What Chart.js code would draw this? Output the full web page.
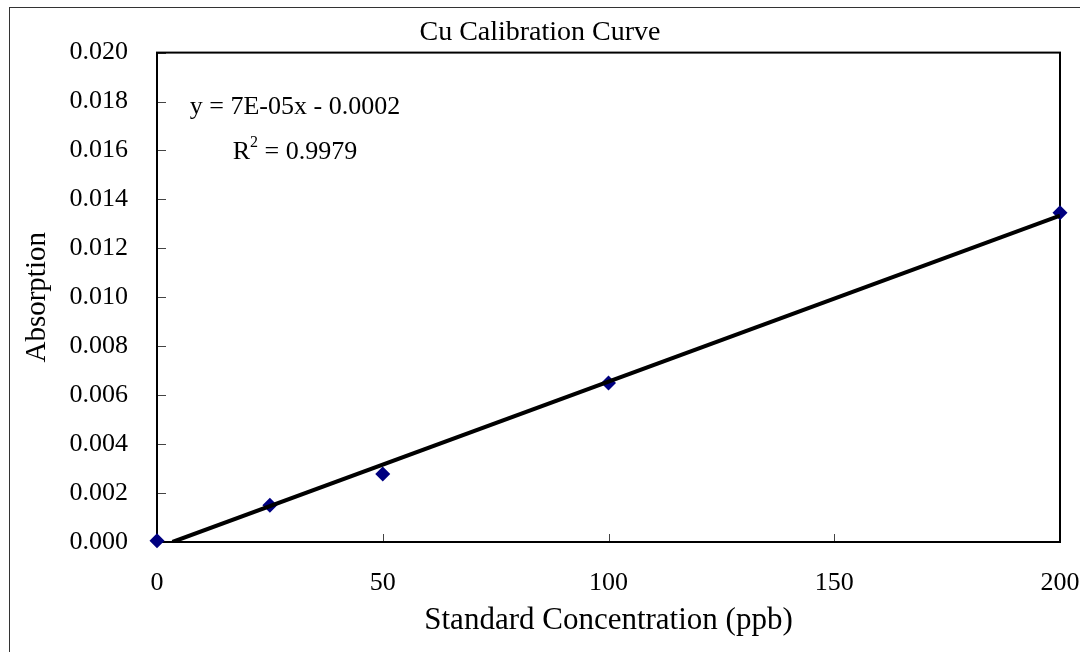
<!DOCTYPE html>
<html>
<head>
<meta charset="utf-8">
<script src="https://cdn.jsdelivr.net/npm/chart.js@4.4.1/dist/chart.umd.min.js"></script>
<style>
  html, body { margin: 0; padding: 0; background: #fff; }
  #wrap { width: 1080px; height: 652px; }
</style>
</head>
<body>
<div id="wrap"><canvas id="cu-chart" width="1080" height="652"></canvas></div>
<script>
// standards (ppb) and measured absorption
const concentrations = [0, 25, 50, 100, 200];
const absorption = [0.00005, 0.0015, 0.00278, 0.0065, 0.01346];
const equationText = 'y = 7E-05x - 0.0002';
const r2Text = ' = 0.9979';

const xTicks = { min: 0, max: 200, step: 50 };
const yTicks = { min: 0, max: 0.02, step: 0.002 };

const serif = '"Liberation Serif", "Times New Roman", serif';

// least squares fit, same as the Excel trendline
const n = concentrations.length;
const mx = concentrations.reduce((a, b) => a + b, 0) / n;
const my = absorption.reduce((a, b) => a + b, 0) / n;
let sxy = 0, sxx = 0;
concentrations.forEach((x, i) => {
  sxy += (x - mx) * (absorption[i] - my);
  sxx += (x - mx) * (x - mx);
});
const slope = sxy / sxx;
const intercept = my - slope * mx;
const trendStart = Math.max(xTicks.min, -intercept / slope);
const trendData = [
  { x: trendStart, y: slope * trendStart + intercept },
  { x: xTicks.max, y: slope * xTicks.max + intercept },
];

const frame = {
  id: 'frame',
  beforeDraw(chart) {
    const ctx = chart.ctx;
    ctx.save();
    ctx.fillStyle = '#fff';
    ctx.fillRect(0, 0, chart.width, chart.height);
    ctx.strokeStyle = '#333';
    ctx.lineWidth = 1;
    ctx.strokeRect(9.5, 7.5, chart.width + 20, chart.height + 20);
    ctx.restore();
  },
  beforeDatasetsDraw(chart) {
    const { ctx, chartArea: a, scales } = chart;
    ctx.save();
    // inward tick marks
    ctx.strokeStyle = '#444';
    ctx.lineWidth = 1;
    ctx.beginPath();
    scales.y.ticks.forEach((t) => {
      const py = Math.round(scales.y.getPixelForValue(t.value)) + 0.5;
      ctx.moveTo(a.left, py);
      ctx.lineTo(a.left + 9, py);
    });
    scales.x.ticks.forEach((t) => {
      const px = Math.round(scales.x.getPixelForValue(t.value)) + 0.5;
      ctx.moveTo(px, a.bottom);
      ctx.lineTo(px, a.bottom - 8);
    });
    ctx.stroke();
    // plot area border
    ctx.strokeStyle = '#000';
    ctx.lineWidth = 2;
    ctx.strokeRect(a.left, a.top, a.right - a.left, a.bottom - a.top);
    ctx.restore();
  },
  afterDraw(chart) {
    const { ctx, chartArea: a } = chart;
    ctx.save();
    ctx.fillStyle = '#000';
    ctx.textBaseline = 'alphabetic';
    ctx.textAlign = 'center';
    ctx.font = '26px ' + serif;
    const cx = a.left + 138;
    ctx.fillText(equationText, cx, a.top + 61);
    // R² line, centred as a whole
    const wR = ctx.measureText('R').width;
    const wRest = ctx.measureText(r2Text).width;
    ctx.font = '16px ' + serif;
    const wSup = ctx.measureText('2').width;
    const total = wR + wSup + wRest;
    let x0 = cx - total / 2;
    const base = a.top + 106;
    ctx.textAlign = 'left';
    ctx.font = '26px ' + serif;
    ctx.fillText('R', x0, base);
    ctx.font = '16px ' + serif;
    ctx.fillText('2', x0 + wR, base - 12);
    ctx.font = '26px ' + serif;
    ctx.fillText(r2Text, x0 + wR + wSup, base);
    ctx.restore();
  },
};

const config = {
  type: 'scatter',
  data: {
    datasets: [
      {
        type: 'line',
        label: 'Linear fit',
        data: trendData,
        borderColor: '#000',
        borderWidth: 4,
        pointRadius: 0,
        fill: false,
      },
      {
        label: 'Standards',
        data: concentrations.map((x, i) => ({ x: x, y: absorption[i] })),
        pointStyle: 'rectRot',
        pointRadius: 7.5,
        pointBackgroundColor: '#000080',
        pointBorderWidth: 0,
        clip: false,
      },
    ],
  },
  options: {
    responsive: false,
    animation: false,
    layout: { padding: { left: 0, right: 0, top: 0, bottom: 0 } },
    scales: {
      x: {
        type: 'linear',
        min: xTicks.min,
        max: xTicks.max,
        grid: { display: false, drawTicks: false },
        border: { display: false },
        ticks: {
          stepSize: xTicks.step,
          padding: 26,
          color: '#000',
          font: { family: serif, size: 26 },
        },
        title: {
          display: true,
          text: 'Standard Concentration (ppb)',
          color: '#000',
          font: { family: serif, size: 31 },
          padding: { top: 0, bottom: 13 },
        },
        afterFit: (s) => {
          s.height = 110;
          s.paddingLeft = 0;
          s.paddingRight = 20;
        },
      },
      y: {
        min: yTicks.min,
        max: yTicks.max,
        grid: { display: false, drawTicks: false },
        border: { display: false },
        ticks: {
          stepSize: yTicks.step,
          padding: 29,
          color: '#000',
          font: { family: serif, size: 26 },
          callback: (v) => v.toFixed(3),
        },
        title: {
          display: true,
          text: 'Absorption',
          color: '#000',
          font: { family: serif, size: 29 },
          padding: { top: 20, bottom: 0 },
        },
        afterFit: (s) => { s.width = 157; },
      },
    },
    plugins: {
      legend: { display: false },
      tooltip: { enabled: false },
      title: {
        display: true,
        text: 'Cu Calibration Curve',
        color: '#000',
        font: { family: serif, size: 28, weight: 'normal' },
        padding: { top: 16, bottom: 3 },
      },
    },
  },
  plugins: [frame],
};

new Chart(document.getElementById('cu-chart'), config);
</script>
</body>
</html>
